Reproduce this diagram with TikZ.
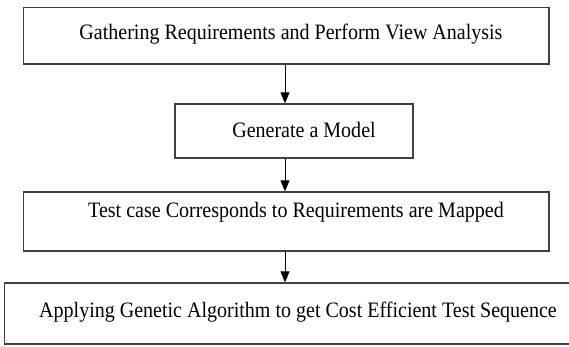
\documentclass[tikz,border=0pt]{standalone}
\usepackage{fontspec}
\setmainfont{Liberation Serif}[FakeStretch=0.91]
\usetikzlibrary{arrows.meta}
\tikzset{
  box/.style={draw=black!75, line width=1.3pt, inner sep=0pt},
  arr/.style={-{Triangle[length=11pt,width=9pt]}, line width=1pt},
  lbl/.style={anchor=base, inner sep=0pt, font=\fontsize{22}{26}\selectfont}
}
\begin{document}
\begin{tikzpicture}[x=1pt,y=-1pt]
  \useasboundingbox (0,0) rectangle (569,347);

  % boxes
  \node[box, minimum width=525.5pt, minimum height=56.5pt] (b1) at (286.25, 35.75) {};
  \node[box, minimum width=238pt, minimum height=54pt] (b2) at (294, 131) {};
  \node[box, minimum width=525.5pt, minimum height=59pt] (b3) at (286.25, 221.5) {};
  \node[box, minimum width=575.5pt, minimum height=61pt] (b4) at (292.25, 313.5) {};

  % texts
  \node[lbl] (t1) at (291, 40) {Gathering Requirements and Perform View Analysis};
  \node[lbl] (t2) at (304, 138) {Generate a Model};
  \node[lbl] (t3) at (296, 217) {Test case Corresponds to Requirements are Mapped};
  \node[lbl] (t4) at (298, 317) {Applying Genetic Algorithm to get Cost Efficient Test Sequence};

  % arrows
  \draw[arr] (b1.south -| 285,0) -- (b2.north -| 285,0);
  \draw[arr] (b2.south -| 285,0) -- (b3.north -| 285,0);
  \draw[arr] (b3.south -| 285,0) -- (b4.north -| 285,0);
\end{tikzpicture}
\end{document}
